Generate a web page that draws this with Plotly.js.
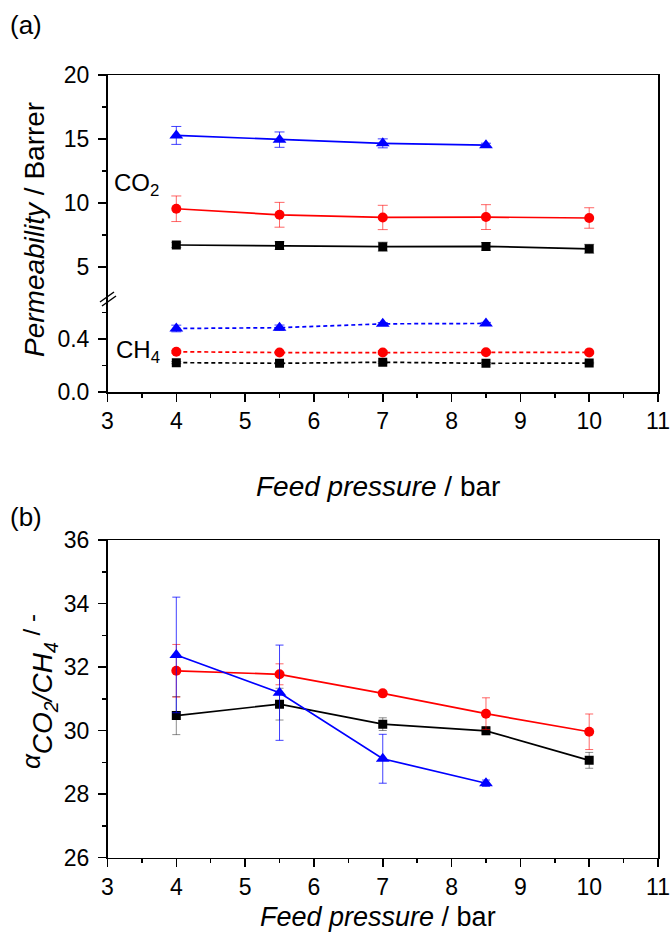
<!DOCTYPE html>
<html>
<head>
<meta charset="utf-8">
<script src="https://cdn.plot.ly/plotly-3.0.1.min.js"></script>
<style>html,body{margin:0;padding:0;background:#fff;}#chart{width:672px;height:933px;}</style>
</head>
<body>
<div id="chart"></div>
<script>
// ---- data ----
const pressure = [4, 5.5, 7, 8.5, 10];
const pressureBlue = [4, 5.5, 7, 8.5];

// (a) CO2 permeability (Barrer)
const co2Black = [6.72, 6.67, 6.59, 6.61, 6.42];
const co2BlackErr = [0.2, 0.3, 0.35, 0.3, 0.35];
const co2Red = [9.55, 9.08, 8.87, 8.9, 8.83];
const co2RedErr = [1.0, 0.97, 0.95, 0.97, 0.8];
const co2Blue = [15.28, 14.95, 14.66, 14.52];
const co2BlueErr = [0.7, 0.6, 0.35, 0.15];

// (a) CH4 permeability (Barrer)
const ch4Black = [0.221, 0.216, 0.224, 0.216, 0.218];
const ch4BlackErr = [0.008, 0.006, 0.008, 0.006, 0.006];
const ch4Red = [0.303, 0.297, 0.297, 0.299, 0.298];
const ch4RedErr = [0.01, 0.008, 0.012, 0.008, 0.008];
const ch4Blue = [0.478, 0.484, 0.513, 0.516];
const ch4BlueErr = [0.025, 0.02, 0.01, 0.008];

// (b) CO2/CH4 selectivity
const selBlack = [30.47, 30.83, 30.2, 29.99, 29.06];
const selBlackErr = [0.6, 0.5, 0.2, 0.12, 0.25];
const selRed = [31.88, 31.77, 31.17, 30.53, 29.96];
const selRedErr = [0.83, 0.33, 0.08, 0.5, 0.56];
const selBlue = [32.38, 31.19, 29.11, 28.34];
const selBlueErr = [1.82, 1.5, 0.77, 0.1];

const xTicks = [3, 4, 5, 6, 7, 8, 9, 10, 11];

// ---- styles ----
const FONT = 'Liberation Sans, Arial, sans-serif';
const W = 672, H = 933;
const px = v => v / W;
const py = v => 1 - v / H;

const styles = {
  black: {color: '#000000', err: 'rgba(0,0,0,0.45)', symbol: 'square', size: 9},
  red: {color: '#ff0000', err: 'rgba(255,0,0,0.6)', symbol: 'circle', size: 10},
  blue: {color: '#0000ff', err: 'rgba(0,0,255,0.75)', symbol: 'triangle-up', size: 12}
};

function tr(x, y, err, st, xa, ya, dash, capw) {
  return {
    x: x, y: y, xaxis: xa, yaxis: ya, type: 'scatter', mode: 'lines+markers',
    line: {color: styles[st].color, width: 1.7, dash: dash || 'solid'},
    marker: {color: styles[st].color, symbol: styles[st].symbol, size: styles[st].size},
    error_y: {type: 'data', array: err, visible: true, color: styles[st].err, thickness: 1, width: capw},
    showlegend: false, hoverinfo: 'skip'
  };
}

const traces = [
  tr(pressure, co2Black, co2BlackErr, 'black', 'x2', 'y2', 'solid', 5),
  tr(pressure, co2Red, co2RedErr, 'red', 'x2', 'y2', 'solid', 5),
  tr(pressureBlue, co2Blue, co2BlueErr, 'blue', 'x2', 'y2', 'solid', 5),
  tr(pressure, ch4Black, ch4BlackErr, 'black', 'x', 'y', '4px,3px', 5),
  tr(pressure, ch4Red, ch4RedErr, 'red', 'x', 'y', '4px,3px', 5),
  tr(pressureBlue, ch4Blue, ch4BlueErr, 'blue', 'x', 'y', '4px,3px', 5),
  tr(pressure, selBlack, selBlackErr, 'black', 'x3', 'y3', 'solid', 4),
  tr(pressure, selRed, selRedErr, 'red', 'x3', 'y3', 'solid', 4),
  tr(pressureBlue, selBlue, selBlueErr, 'blue', 'x3', 'y3', 'solid', 4)
];

const tickFont = {family: FONT, size: 23, color: '#000'};
const xDom = [px(107.5), px(658)];
const baseAxis = {
  showgrid: false, zeroline: false, showline: true, linecolor: '#000', linewidth: 1.5,
  ticks: 'outside', ticklen: 8, tickwidth: 1.5, tickcolor: '#000', tickfont: tickFont,
  fixedrange: true
};

const layout = {
  width: W, height: H,
  margin: {l: 0, r: 0, t: 0, b: 0},
  paper_bgcolor: '#fff', plot_bgcolor: '#fff',
  font: {family: FONT, color: '#000'},
  showlegend: false,
  xaxis: Object.assign({}, baseAxis, {
    domain: xDom, anchor: 'y', range: [3, 11], tickvals: xTicks, ticktext: xTicks.map(String),
    minor: {dtick: 0.5, ticklen: 4, tickwidth: 1.5, tickcolor: '#000', ticks: 'outside'}
  }),
  yaxis: Object.assign({}, baseAxis, {
    domain: [py(392), py(299)], anchor: 'x', range: [0, 0.7], tickvals: [0, 0.4], ticktext: ['0.0', '0.4'],
    mirror: true, ticklabelstandoff: 4,
    minor: {tickvals: [0.2, 0.6], ticklen: 4, tickwidth: 1.5, tickcolor: '#000', ticks: 'outside'}
  }),
  xaxis2: Object.assign({}, baseAxis, {
    domain: xDom, anchor: 'y2', range: [3, 11], side: 'top', ticks: '', showticklabels: false
  }),
  yaxis2: Object.assign({}, baseAxis, {
    domain: [py(299), py(75)], anchor: 'x2', range: [2.5, 20], tickvals: [5, 10, 15, 20],
    mirror: true, ticklabelstandoff: 4,
    minor: {tickvals: [7.5, 12.5, 17.5], ticklen: 4, tickwidth: 1.5, tickcolor: '#000', ticks: 'outside'}
  }),
  xaxis3: Object.assign({}, baseAxis, {
    domain: xDom, anchor: 'y3', range: [3, 11], tickvals: xTicks, mirror: true,
    minor: {dtick: 0.5, ticklen: 4, tickwidth: 1.5, tickcolor: '#000', ticks: 'outside'}
  }),
  yaxis3: Object.assign({}, baseAxis, {
    domain: [py(857.5), py(540)], anchor: 'x3', range: [26, 36], tickvals: [26, 28, 30, 32, 34, 36],
    mirror: true, ticklabelstandoff: 4,
    minor: {dtick: 1, ticklen: 4, tickwidth: 1.5, tickcolor: '#000', ticks: 'outside'}
  }),
  shapes: [
    {type: 'line', xref: 'paper', yref: 'paper', x0: px(100), y0: py(302), x1: px(114), y1: py(292), line: {color: '#000', width: 1.5}},
    {type: 'line', xref: 'paper', yref: 'paper', x0: px(102), y0: py(306), x1: px(116), y1: py(296), line: {color: '#000', width: 1.5}}
  ],
  annotations: [
    {text: '(a)', xref: 'paper', yref: 'paper', x: px(26), y: py(25), xanchor: 'center', yanchor: 'middle', showarrow: false, font: {family: FONT, size: 26, color: '#000'}},
    {text: '(b)', xref: 'paper', yref: 'paper', x: px(26), y: py(517), xanchor: 'center', yanchor: 'middle', showarrow: false, font: {family: FONT, size: 26, color: '#000'}},
    {text: 'CO<sub>2</sub>', xref: 'paper', yref: 'paper', x: px(112), y: py(184), xanchor: 'left', yanchor: 'middle', showarrow: false, font: {family: FONT, size: 24, color: '#000'}},
    {text: 'CH<sub>4</sub>', xref: 'paper', yref: 'paper', x: px(114), y: py(351), xanchor: 'left', yanchor: 'middle', showarrow: false, font: {family: FONT, size: 24, color: '#000'}},
    {text: '<i>Permeability</i> / Barrer', xref: 'paper', yref: 'paper', x: px(34), y: py(230), xanchor: 'center', yanchor: 'middle', textangle: -90, showarrow: false, font: {family: FONT, size: 28, color: '#000'}},
    {text: '<i>Feed pressure</i> / bar', xref: 'paper', yref: 'paper', x: px(378), y: py(487), xanchor: 'center', yanchor: 'middle', showarrow: false, font: {family: FONT, size: 28, color: '#000'}},
    {text: '<i>Feed pressure</i> / bar', xref: 'paper', yref: 'paper', x: px(378), y: py(917), xanchor: 'center', yanchor: 'middle', showarrow: false, font: {family: FONT, size: 27, color: '#000'}},
    {text: '<sup><span style="font-size:26px"><i>α</i></span></sup><i>CO<sub>2</sub>/CH<sub>4</sub></i><sup><span style="font-size:24px"> / -</span></sup>', xref: 'paper', yref: 'paper', x: px(39), y: py(692), xanchor: 'center', yanchor: 'middle', textangle: -90, showarrow: false, font: {family: FONT, size: 28, color: '#000'}}
  ]
};

Plotly.newPlot('chart', traces, layout, {staticPlot: true, displayModeBar: false});
</script>
</body>
</html>
